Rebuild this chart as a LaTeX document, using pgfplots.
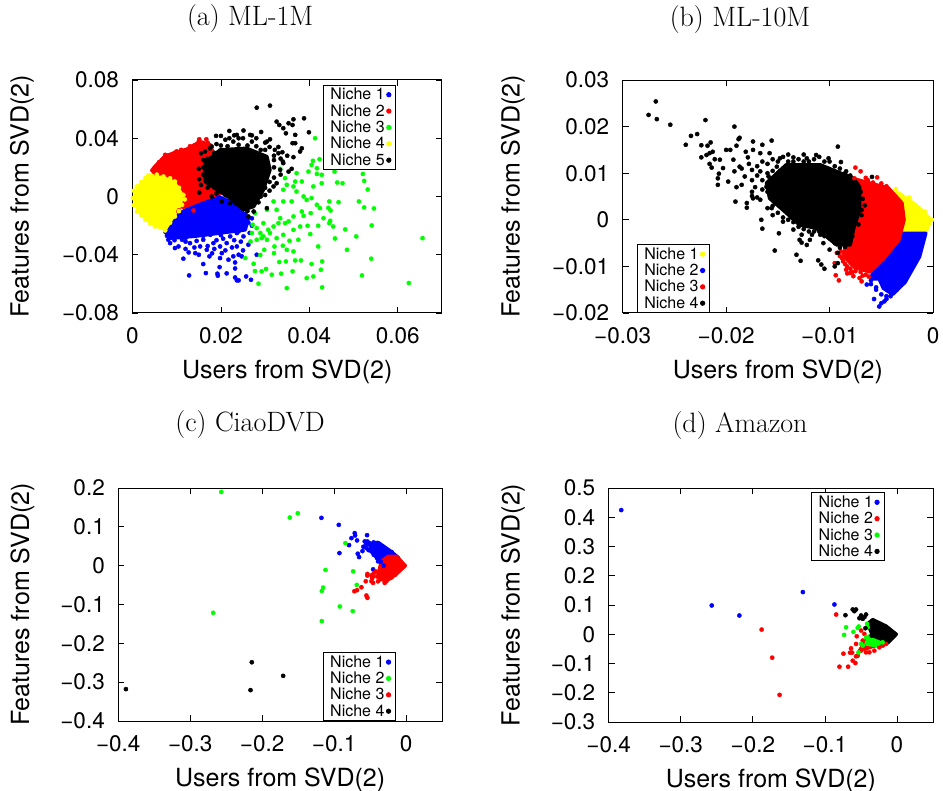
\documentclass[border=0pt]{standalone}
\usepackage{fontspec}
\usepackage{pgfplots}
\pgfplotsset{compat=1.18}
\newfontfamily\hv{TeX Gyre Heros}
\definecolor{cB}{RGB}{0,0,255}
\definecolor{cR}{RGB}{255,0,0}
\definecolor{cG}{RGB}{0,255,0}
\definecolor{cY}{RGB}{255,255,0}
\definecolor{cK}{RGB}{0,0,0}
\pgfplotsset{
  pts/.style={only marks, mark=*, mark size=2.1pt, color=#1, mark options={draw=none, fill=#1}},
  core/.style={forget plot, no marks, fill=#1, draw=#1, line width=3.5pt, line join=round},
  panel/.style={
    scale only axis, scaled ticks=false, axis line style={line width=1pt}, tick style={black, line width=0.8pt},
    major tick length=6pt, tick align=inside, tick pos=both,
    tick label style={font=\hv\fontsize{22.5}{24}\selectfont},
    xticklabel style={yshift=-11pt}, yticklabel style={xshift=-10pt},
    label style={font=\hv\fontsize{25}{27}\selectfont},
    title style={font=\fontsize{28}{30}\selectfont, anchor=center, yshift=0pt},
    legend style={draw=black, line width=1pt, font=\hv\fontsize{16}{17}\selectfont, anchor=north west, row sep=-0.8pt, inner xsep=5pt, inner ysep=1pt},
    legend cell align=left, legend plot pos=right,
    legend image code/.code={\draw[mark repeat=2,mark phase=2,##1] plot coordinates {(0pt,0pt)(22pt,0pt)(44pt,0pt)};},
  },
}
\begin{document}
\begin{tikzpicture}
\useasboundingbox (0,0) rectangle (943pt,-791pt);
% ---------- (a)
\begin{axis}[panel, at={(132.5pt,-313pt)}, anchor=south west, width=309.5pt, height=233pt,
  xmin=0, xmax=0.07, ymin=-0.08, ymax=0.08,
  xtick={0,0.02,0.04,0.06}, xticklabels={0,0.02,0.04,0.06},
  ytick={-0.08,-0.04,0,0.04,0.08}, yticklabels={−0.08,−0.04,0,0.04,0.08},
  title={(a) ML-1M}, title style={at={(axis description cs:0.38,1.236)}},
  xlabel={Users from SVD(2)}, xlabel style={at={(axis description cs:0.5,-0.253)},anchor=center},
  ylabel={Features from SVD(2)}, ylabel style={at={(axis description cs:-0.357,0.5)},anchor=center,rotate=0},
  legend style={at={(axis description cs:0.6155,0.98)}}]
\addplot[core=cB] coordinates {(.0074,-.0229)(.0108,-.0114)(.0153,-.0034)(.0191,.0005)(.0228,-.0046)(.0262,-.0149)(.0255,-.0229)(.0198,-.0251)(.0138,-.0274)(.0085,-.0286)} --cycle;
\addplot[pts=cB] coordinates {(.0128,-.0542)(.0115,-.0427)(.0160,-.0464)(.0166,-.0526)(.0192,-.0530)(.0193,-.0544)(.0213,-.0528)(.0232,-.0556)(.0236,-.0576)(.0240,-.0576)(.0257,-.0549)(.0268,-.0572)(.0174,-.0411)(.0197,-.0485)(.0232,-.0494)(.0232,-.0453)(.0217,-.0434)(.0198,-.0423)(.0240,-.0400)(.0247,-.0411)(.0228,-.0411)(.0202,-.0389)(.0168,-.0366)(.0142,-.0389)(.0127,-.0384)(.0104,-.0343)(.0085,-.0320)(.0081,-.0297)(.0096,-.0354)(.0130,-.0320)(.0153,-.0343)(.0183,-.0320)(.0213,-.0320)(.0236,-.0343)(.0221,-.0274)(.0251,-.0274)(.0262,-.0331)(.0281,-.0400)(.0198,-.0343)(.0251,-.0206)(.0160,-.0297)(.0112,-.0297)(.0176,-.0263)(.0236,-.0251)(.0120,-.0310)(.0140,-.0350)(.0170,-.0340)(.0190,-.0300)(.0230,-.0300)(.0210,-.0370)(.0250,-.0370)(.0180,-.0390)(.0150,-.0400)(.0120,-.0360)(.0265,-.0250)(.0270,-.0200)(.0145,-.0305)(.0205,-.0290)(.0245,-.0310)(.0095,-.0300)(.0185,-.0360)(.0225,-.0350)(.0075,-.0245)(.0078,-.0270)(.0100,-.0270)(.0120,-.0285)(.0160,-.0270)(.0200,-.0265)(.0240,-.0240)(.0262,-.0180)(.0270,-.0150)(.0255,-.0120)};
\addlegendentry{Niche 1}
\addplot[core=cR] coordinates {(.0047,.0194)(.0074,.0279)(.0123,.0325)(.0153,.0377)(.0177,.0354)(.0191,.0183)(.0198,.0023)(.0153,-.0027)(.0115,-.0073)(.0047,-.0046)} --cycle;
\addplot[pts=cR] coordinates {(.0151,.0393)(.0167,.0393)(.0176,.0320)(.0160,.0354)(.0127,.0320)(.0112,.0297)(.0093,.0279)(.0074,.0286)(.0085,.0263)(.0066,.0217)(.0051,.0194)(.0051,.0160)(.0138,-.0096)(.0104,-.0103)(.0060,.0235)(.0095,.0300)(.0110,.0320)(.0130,.0345)(.0140,.0350)(.0150,.0380)(.0170,.0370)(.0045,.0180)(.0115,-.0060)(.0100,.0310)(.0118,.0290)(.0080,.0250)(.0105,-.0095)};
\addlegendentry{Niche 2}
\addplot[pts=cG] coordinates {(.0656,-.0286)(.0625,-.0594)(.0541,-.0199)(.0540,-.0427)(.0519,-.0542)(.0546,-.0082)(.0524,-.0075)(.0512,-.0034)(.0532,.0048)(.0524,.0107)(.0521,.0155)(.0485,-.0366)(.0506,-.0274)(.0481,-.0226)(.0458,-.0288)(.0454,-.0206)(.0447,-.0167)(.0445,-.0183)(.0466,-.0039)(.0445,-.0034)(.0443,-.0078)(.0448,-.0096)(.0463,.0096)(.0475,.0091)(.0457,.0171)(.0428,.0091)(.0417,.0155)(.0423,.0256)(.0408,.0245)(.0405,.0217)(.0398,.0171)(.0413,.0400)(.0429,-.0624)(.0426,-.0503)(.0429,-.0446)(.0405,-.0464)(.0409,-.0549)(.0394,-.0560)(.0381,-.0439)(.0368,-.0439)(.0362,-.0514)(.0349,-.0629)(.0347,-.0446)(.0336,-.0530)(.0315,-.0537)(.0332,-.0450)(.0302,-.0498)(.0292,-.0514)(.0277,-.0512)(.0285,-.0599)(.0274,-.0462)(.0255,-.0423)(.0320,-.0389)(.0298,-.0366)(.0289,-.0402)(.0349,-.0366)(.0364,-.0377)(.0420,-.0343)(.0402,-.0258)(.0375,-.0297)(.0355,-.0304)(.0340,-.0338)(.0321,-.0343)(.0304,-.0297)(.0292,-.0286)(.0281,-.0297)(.0267,-.0309)(.0270,-.0251)(.0289,-.0251)(.0311,-.0251)(.0341,-.0263)(.0364,-.0229)(.0379,-.0206)(.0396,-.0201)(.0420,-.0201)(.0432,-.0149)(.0403,-.0114)(.0383,-.0103)(.0387,-.0133)(.0364,-.0137)(.0345,-.0183)(.0330,-.0183)(.0296,-.0183)(.0272,-.0194)(.0277,-.0114)(.0304,-.0091)(.0326,-.0091)(.0341,-.0034)(.0360,-.0034)(.0387,0)(.0405,-.0011)(.0417,-.0057)(.0424,-.0080)(.0364,.0069)(.0345,.0126)(.0334,.0190)(.0383,.0103)(.0371,.0160)(.0428,.0149)(.0417,.0194)(.0319,-.0034)(.0281,-.0217)(.0319,-.0206)(.0353,-.0171)(.0307,-.0229)(.0296,-.0274)(.0326,-.0286)(.0334,-.0149)(.0371,.0034)(.0349,.0080)(.0368,.0103)(.0341,.0046)(.0394,-.0023)(.0409,.0069)};
\addlegendentry{Niche 3}
\addplot[core=cY] coordinates {(.0005,-.0011)(.0014,.0069)(.0031,.0120)(.0044,.0135)(.0070,.0130)(.0094,.0098)(.0112,.0011)(.0108,-.0057)(.0092,-.0137)(.0074,-.0225)(.0051,-.0200)(.0031,-.0155)(.0014,-.0100)} --cycle;
\addplot[pts=cY] coordinates {(.0001,-.0011)(.0010,.0069)(.0029,.0126)(.0044,.0142)(.0070,.0137)(.0096,.0103)(.0115,.0011)(.0112,-.0057)(.0096,-.0137)(.0074,-.0233)(.0051,-.0206)(.0029,-.0160)(.0010,-.0103)(.0036,.0145)(.0055,.0150)(.0085,.0125)(.0105,.0060)(.0118,-.0020)(.0105,-.0100)(.0085,-.0180)(.0040,-.0185)(.0020,-.0130)(.0003,-.0060)(.0003,.0040)(.0020,.0100)};
\addlegendentry{Niche 4}
\addplot[core=cK] coordinates {(.0164,.0229)(.0198,.0320)(.0258,.0331)(.0304,.0274)(.0311,.0183)(.0296,.0046)(.0274,-.0069)(.0251,-.0091)(.0221,-.0011)(.0191,.0046)(.0164,.0103)} --cycle;
\addplot[pts=cK] coordinates {(.0281,.0610)(.0311,.0624)(.0219,.0450)(.0251,.0453)(.0189,.0416)(.0200,.0416)(.0219,.0400)(.0236,.0423)(.0240,.0400)(.0228,.0377)(.0266,.0423)(.0270,.0377)(.0291,.0443)(.0311,.0393)(.0304,.0377)(.0326,.0514)(.0332,.0491)(.0341,.0469)(.0347,.0434)(.0364,.0530)(.0388,.0537)(.0362,.0491)(.0353,.0503)(.0399,.0441)(.0368,.0423)(.0362,.0366)(.0368,.0366)(.0383,.0331)(.0379,.0309)(.0364,.0270)(.0360,.0190)(.0353,.0171)(.0330,.0297)(.0339,.0304)(.0322,.0320)(.0179,.0343)(.0164,.0309)(.0155,.0297)(.0160,.0251)(.0151,.0119)(.0151,.0027)(.0179,0)(.0202,-.0034)(.0221,-.0046)(.0304,-.0080)(.0262,-.0137)(.0274,-.0103)(.0326,.0091)(.0319,.0069)(.0334,.0183)(.0341,.0229)(.0320,.0250)(.0290,.0320)(.0270,.0100)(.0160,.0200)(.0170,.0260)(.0185,.0300)(.0200,.0350)(.0215,.0345)(.0240,.0355)(.0260,.0350)(.0280,.0345)(.0300,.0320)(.0320,.0280)(.0335,.0260)(.0320,.0200)(.0335,.0150)(.0320,.0130)(.0310,.0100)(.0300,.0010)(.0290,.0000)(.0285,-.0040)(.0260,-.0100)(.0235,-.0050)(.0210,.0010)(.0190,.0020)(.0170,.0060)(.0155,.0080)(.0160,.0150)(.0150,.0190)(.0165,.0240)(.0300,.0060)(.0310,.0040)(.0280,.0400)(.0250,.0400)(.0230,.0420)(.0210,.0390)(.0310,.0340)(.0340,.0240)(.0175,.0330)(.0190,.0360)(.0300,.0370)(.0270,.0420)(.0330,.0340)(.0350,.0280)};
\addlegendentry{Niche 5}
\end{axis}
% ---------- (b)
\begin{axis}[panel, at={(622.7pt,-313pt)}, anchor=south west, width=310.3pt, height=233pt,
  xmin=-0.03, xmax=0, ymin=-0.02, ymax=0.03,
  xtick={-0.03,-0.02,-0.01,0}, xticklabels={−0.03,−0.02,−0.01,0},
  ytick={-0.02,-0.01,0,0.01,0.02,0.03}, yticklabels={−0.02,−0.01,0,0.01,0.02,0.03},
  title={(b) ML-10M}, title style={at={(axis description cs:0.378,1.236)}},
  xlabel={Users from SVD(2)}, xlabel style={at={(axis description cs:0.5,-0.253)},anchor=center},
  ylabel={Features from SVD(2)}, ylabel style={at={(axis description cs:-0.354,0.5)},anchor=center,rotate=0},
  legend style={at={(axis description cs:0.0454,0.296)}}]
\addplot[core=cY] coordinates {(-.0035,.0060)(-.0023,.0042)(-.0013,.0025)(-.0002,0)(-.0007,-.0027)(-.0029,-.0027)(-.0028,.0021)} --cycle;
\addplot[pts=cY] coordinates {(-.0036,.0066)(-.0023,.0048)(-.0001,0)(-.0030,.0052)(-.0017,.0032)(-.0008,.0018)};
\addlegendentry{Niche 1}
\addplot[core=cB] coordinates {(-.0029,-.0029)(-.0007,-.0029)(-.0013,-.0079)(-.0027,-.0134)(-.0039,-.0160)(-.0048,-.0147)(-.0052,-.0127)(-.0060,-.0127)(-.0058,-.0111)(-.0045,-.0079)(-.0034,-.0050)} --cycle;
\addplot[pts=cB] coordinates {(-.0052,-.0186)(-.0057,-.0170)(-.0047,-.0175)(-.0050,-.0179)(-.0064,-.0139)(-.0060,-.0138)(-.0055,-.0145)(-.0041,-.0164)(-.0045,-.0164)(-.0055,-.0150)(-.0050,-.0160)(-.0045,-.0170)(-.0040,-.0158)(-.0060,-.0130)(-.0035,-.0150)};
\addlegendentry{Niche 2}
\addplot[core=cR] coordinates {(-.0080,.0090)(-.0068,.0083)(-.0043,.0068)(-.0030,.0036)(-.0028,0)(-.0033,-.0043)(-.0048,-.0084)(-.0061,-.0112)(-.0076,-.0102)(-.0086,-.0079)(-.0084,-.0036)(-.0077,0)} --cycle;
\addplot[pts=cR] coordinates {(-.0075,.0112)(-.0070,.0104)(-.0076,.0089)(-.0054,.0091)(-.0093,-.0071)(-.0089,-.0068)(-.0087,-.0089)(-.0084,-.0107)(-.0094,-.0119)(-.0091,-.0130)(-.0080,-.0114)(-.0071,-.0125)(-.0069,-.0132)(-.0083,-.0100)(-.0077,-.0121)(-.0095,-.0093)(-.0073,-.0100)(-.0085,-.0095)(-.0080,-.0105)(-.0075,-.0110)(-.0070,-.0112)(-.0065,-.0118)(-.0088,-.0082)(-.0090,-.0078)(-.0083,-.0115)(-.0078,-.0112)(-.0068,-.0120)(-.0062,-.0122)(-.0086,-.0075)(-.0063,.0085)(-.0058,.0080)(-.0050,.0078)(-.0045,.0072)(-.0065,.0090)};
\addlegendentry{Niche 3}
\addplot[core=cK] coordinates {(-.0161,.0079)(-.0142,.0118)(-.0109,.0118)(-.0077,.0089)(-.0071,.0071)(-.0071,.0021)(-.0077,-.0021)(-.0080,-.0054)(-.0093,-.0054)(-.0113,-.0018)(-.0129,-.0011)(-.0145,.0021)(-.0158,.0046)} --cycle;
\addplot[pts=cK] coordinates {(-.0268,.0254)(-.0275,.0225)(-.0267,.0216)(-.0254,.0204)(-.0220,.0214)(-.0192,.0200)(-.0234,.0180)(-.0228,.0184)(-.0239,.0161)(-.0224,.0160)(-.0218,.0159)(-.0215,.0166)(-.0187,.0176)(-.0188,.0173)(-.0174,.0168)(-.0156,.0170)(-.0165,.0161)(-.0092,.0157)(-.0224,.0134)(-.0216,.0143)(-.0213,.0146)(-.0219,.0139)(-.0211,.0130)(-.0216,.0120)(-.0206,.0129)(-.0214,.0112)(-.0207,.0099)(-.0208,.0089)(-.0208,.0075)(-.0198,.0082)(-.0190,.0070)(-.0191,.0039)(-.0180,.0036)(-.0180,.0026)(-.0174,.0046)(-.0175,.0051)(-.0196,.0150)(-.0200,.0150)(-.0190,.0159)(-.0181,.0146)(-.0179,.0134)(-.0174,.0150)(-.0167,.0143)(-.0158,.0143)(-.0193,.0129)(-.0187,.0114)(-.0203,.0111)(-.0192,.0104)(-.0175,.0107)(-.0167,.0104)(-.0182,.0093)(-.0166,0)(-.0165,-.0019)(-.0153,-.0066)(-.0149,-.0029)(-.0145,-.0004)(-.0132,-.0075)(-.0128,-.0088)(-.0111,-.0087)(-.0108,-.0096)(-.0105,-.0105)(-.0095,-.0100)(-.0100,-.0064)(-.0106,-.0050)(-.0119,-.0043)(-.0122,-.0054)(-.0135,-.0021)(-.0129,-.0043)(-.0127,-.0049)(-.0127,-.0032)(-.0117,-.0032)(-.0109,-.0032)(-.0092,-.0071)(-.0092,-.0093)(-.0089,.0124)(-.0084,.0104)(-.0101,.0132)(-.0113,.0139)(-.0122,.0132)(-.0135,.0134)(-.0148,.0132)(-.0151,.0114)(-.0159,.0093)(-.0161,.0071)(-.0167,.0043)(-.0156,.0025)(-.0151,.0039)(-.0066,.0031)(-.0069,.0021)(-.0059,.0092)(-.0185,.0110)(-.0178,.0120)(-.0170,.0115)(-.0165,.0125)(-.0160,.0120)(-.0155,.0130)(-.0150,.0125)(-.0145,.0135)(-.0140,.0125)(-.0135,.0125)(-.0130,.0130)(-.0125,.0125)(-.0120,.0125)(-.0115,.0130)(-.0110,.0135)(-.0105,.0125)(-.0100,.0125)(-.0095,.0115)(-.0090,.0110)(-.0085,.0100)(-.0080,.0095)(-.0175,.0085)(-.0170,.0095)(-.0165,.0085)(-.0160,.0100)(-.0155,.0105)(-.0150,.0100)(-.0172,.0070)(-.0165,.0065)(-.0175,.0060)(-.0160,.0060)(-.0155,.0030)(-.0160,.0025)(-.0150,.0015)(-.0155,.0010)(-.0145,.0005)(-.0140,.0000)(-.0135,-.0005)(-.0130,-.0015)(-.0125,-.0020)(-.0120,-.0025)(-.0115,-.0025)(-.0110,-.0025)(-.0105,-.0035)(-.0100,-.0040)(-.0095,-.0050)(-.0090,-.0060)(-.0085,-.0058)(-.0085,-.0045)(-.0078,-.0035)(-.0072,-.0010)(-.0069,.0010)(-.0068,.0045)(-.0070,.0060)(-.0075,.0080)(-.0085,.0085)(-.0140,.0140)(-.0125,.0140)(-.0185,.0075)(-.0170,.0048)(-.0148,.0105)};
\addlegendentry{Niche 4}
\end{axis}
% ---------- (c)
\begin{axis}[panel, at={(118.3pt,-721pt)}, anchor=south west, width=323.7pt, height=233pt,
  xmin=-0.4, xmax=0.05, ymin=-0.4, ymax=0.2,
  xtick={-0.4,-0.3,-0.2,-0.1,0}, xticklabels={−0.4,−0.3,−0.2,−0.1,0},
  ytick={-0.4,-0.3,-0.2,-0.1,0,0.1,0.2}, yticklabels={−0.4,−0.3,−0.2,−0.1,0,0.1,0.2},
  title={(c) CiaoDVD}, title style={at={(axis description cs:0.407,1.245)}},
  xlabel={Users from SVD(2)}, xlabel style={at={(axis description cs:0.5,-0.253)},anchor=center},
  ylabel={Features from SVD(2)}, ylabel style={at={(axis description cs:-0.296,0.5)},anchor=center,rotate=0},
  legend style={at={(axis description cs:0.6315,0.296)}}]
\addplot[core=cB] coordinates {(-.0505,.0538)(-.0389,.0600)(-.0227,.0390)(-.0100,.0197)(-.0273,.0068)(-.0366,.0111)(-.0481,.0368)} --cycle;
\addplot[pts=cB] coordinates {(-.1176,.1231)(-.0935,.1051)(-.0713,.0838)(-.0708,.0778)(-.0759,.0709)(-.0681,.0650)(-.0792,.0530)(-.0542,.0786)(-.0926,.0325)(-.0671,.0308)(-.0653,.0222)(-.0606,.0376)(-.0593,.0487)(-.0458,-.0094)(-.0574,.0624)(-.0537,.0624)(-.0505,.0581)(-.0551,.0453)(-.0481,.0368)(-.0449,.0282)(-.0403,.0197)(-.0389,.0111)(-.0310,0)(-.0550,.0550)(-.0480,.0550)(-.0450,.0600)(-.0400,.0580)(-.0520,.0400)(-.0460,.0450)(-.0420,.0300)(-.0350,.0100)(-.0300,.0450)(-.0200,.0350)};
\addlegendentry{Niche 1}
\addplot[pts=cG] coordinates {(-.2569,.1897)(-.1505,.1350)(-.1616,.1239)(-.0843,.0581)(-.1120,-.0111)(-.0736,-.0145)(-.0685,-.0496)(-.1153,-.0564)(-.1171,-.0650)(-.0921,-.1051)(-.0741,-.1171)(-.1171,-.1427)(-.2681,-.1214)};
\addlegendentry{Niche 2}
\addplot[core=cR] coordinates {(-.0343,.0111)(-.0250,.0240)(-.0134,.0240)(-.0010,0)(-.0134,-.0215)(-.0227,-.0340)(-.0366,-.0340)(-.0389,-.0231)} --cycle;
\addplot[pts=cR] coordinates {(-.0537,-.0214)(-.0537,-.0256)(-.0458,-.0274)(-.0472,-.0333)(-.0560,-.0402)(-.0481,-.0402)(-.0458,-.0444)(-.0389,-.0402)(-.0296,-.0444)(-.0273,-.0402)(-.0620,-.0556)(-.0681,-.0632)(-.0718,-.0658)(-.0551,-.0769)(-.0537,-.0829)(-.0319,-.0316)(-.0450,-.0200)(-.0400,-.0280)(-.0350,-.0350)(-.0300,-.0380)(-.0250,-.0350)(-.0420,-.0150)(-.0480,-.0250)(-.0200,-.0300)(-.0150,-.0230)};
\addlegendentry{Niche 3}
\addplot[pts=cK] coordinates {(-.2144,-.2487)(-.1708,-.2838)(-.3894,-.3179)(-.2162,-.3205)};
\addlegendentry{Niche 4}
\end{axis}
% ---------- (d)
\begin{axis}[panel, at={(608.7pt,-722pt)}, anchor=south west, width=324.3pt, height=234pt,
  xmin=-0.4, xmax=0.05, ymin=-0.3, ymax=0.5,
  xtick={-0.4,-0.3,-0.2,-0.1,0}, xticklabels={−0.4,−0.3,−0.2,−0.1,0},
  ytick={-0.3,-0.2,-0.1,0,0.1,0.2,0.3,0.4,0.5}, yticklabels={−0.3,−0.2,−0.1,0,0.1,0.2,0.3,0.4,0.5},
  title={(d) Amazon}, title style={at={(axis description cs:0.405,1.24)}},
  xlabel={Users from SVD(2)}, xlabel style={at={(axis description cs:0.5,-0.25)},anchor=center},
  ylabel={Features from SVD(2)}, ylabel style={at={(axis description cs:-0.295,0.5)},anchor=center,rotate=0},
  legend style={at={(axis description cs:0.6245,0.982)}}]
\addplot[pts=cB] coordinates {(-.3826,.4245)(-.2570,.0984)(-.2187,.0641)(-.1306,.1442)(-.0868,.1018)};
\addlegendentry{Niche 1}
\addplot[core=cR] coordinates {(-.0521,-.0561)(-.0152,-.0275)(-.0291,-.0103)(-.0429,-.0217)} --cycle;
\addplot[pts=cR] coordinates {(-.0844,.0675)(-.1878,.0160)(-.1731,-.0801)(-.1629,-.2071)(-.0798,-.1110)(-.0678,-.1110)(-.0614,-.0904)(-.0577,-.0984)(-.0743,-.0664)(-.0651,-.0629)(-.0623,-.0629)(-.0637,-.0481)(-.0568,-.0755)(-.0545,-.0732)(-.0568,-.0332)(-.0558,-.0069)(-.0498,.0126)(-.0475,-.0217)(-.0452,.0011)(-.0498,-.0561)(-.0429,-.0618)(-.0383,-.0618)(-.0314,-.0561)(-.0245,-.0446)(-.0198,-.0389)(-.0152,-.0332)};
\addlegendentry{Niche 2}
\addplot[core=cG] coordinates {(-.0429,-.0332)(-.0291,-.0389)(-.0152,-.0332)(-.0245,-.0046)(-.0383,-.0046)} --cycle;
\addplot[pts=cG] coordinates {(-.0706,.0240)(-.0734,-.0023)(-.0605,.0080)(-.0545,.0217)(-.0531,.0263)(-.0415,.0355)(-.0535,-.0618)(-.0498,-.0332)(-.0475,-.0389)(-.0383,-.0332)(-.0429,-.0103)(-.0337,-.0217)(-.0268,-.0332)(-.0198,-.0275)(-.0406,.0240)};
\addlegendentry{Niche 3}
\addplot[core=cK] coordinates {(-.0406,.0355)(-.0337,.0500)(-.0152,.0280)(-.0010,0)(-.0129,-.0300)(-.0222,-.0160)(-.0337,-.0046)} --cycle;
\addplot[pts=cK] coordinates {(-.0715,.0652)(-.0614,.0847)(-.0568,.0847)(-.0591,.0789)(-.0521,.0549)(-.0498,.0641)(-.0475,.0526)(-.0429,.0675)(-.0452,.0584)(-.0438,.0206)(-.0351,-.0046)};
\addlegendentry{Niche 4}
\end{axis}
\end{tikzpicture}
\end{document}
